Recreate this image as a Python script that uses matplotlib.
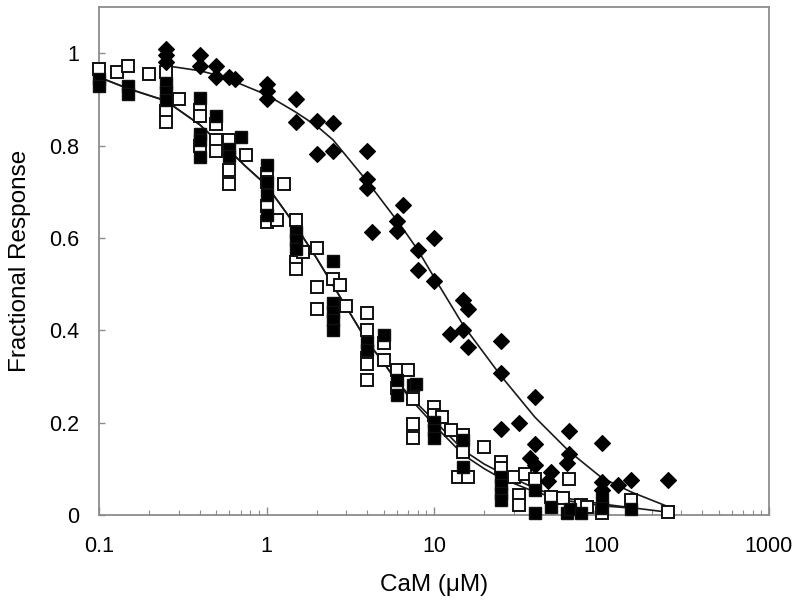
import matplotlib
matplotlib.use("Agg")
import matplotlib.pyplot as plt
from matplotlib.ticker import FixedLocator, NullFormatter

plt.rcParams['font.family'] = ['Liberation Sans', 'DejaVu Sans']

# --- Diamonds (filled) ---
dia_x = [0.25, 0.25, 0.25, 0.4, 0.4, 0.5, 0.5, 0.6, 0.65, 1, 1, 1, 1.5, 1.5,
         2, 2, 2.5, 2.5, 4, 4, 4, 4.25, 6, 6, 6.5, 8, 8, 10, 10, 12.5, 15, 15,
         16, 16, 25, 25, 25, 32, 37.5, 40, 40, 40, 48, 50, 62, 64, 64,
         100, 100, 100, 125, 150, 250]
dia_y = [1.01, 0.995, 0.98, 0.995, 0.973, 0.973, 0.948, 0.948, 0.945, 0.933, 0.919, 0.901, 0.901, 0.850,
         0.853, 0.782, 0.848, 0.789, 0.789, 0.728, 0.708, 0.613, 0.636, 0.615, 0.672, 0.573, 0.531, 0.600, 0.507, 0.393, 0.465, 0.400,
         0.447, 0.364, 0.377, 0.308, 0.186, 0.200, 0.123, 0.256, 0.153, 0.108, 0.074, 0.094, 0.112, 0.182, 0.133,
         0.156, 0.072, 0.054, 0.065, 0.076, 0.076]

# --- Filled squares ---
fsq_x = [0.1, 0.1, 0.15, 0.15, 0.25, 0.25, 0.25, 0.4, 0.4, 0.4, 0.4, 0.5, 0.6, 0.6, 0.7,
         1, 1, 1, 1, 1.5, 1.5, 1.5, 2.5, 2.5, 2.5, 2.5, 2.5, 4, 4, 5, 6, 6, 7.5, 7.8,
         10, 10, 10, 15, 15, 25, 25, 25, 25, 40, 40, 50, 62, 65, 75, 100, 100, 150]
fsq_y = [0.945, 0.93, 0.930, 0.912, 0.935, 0.917, 0.899, 0.904, 0.824, 0.813, 0.775, 0.865, 0.793, 0.778, 0.818,
         0.758, 0.72, 0.692, 0.65, 0.613, 0.595, 0.577, 0.55, 0.458, 0.44, 0.422, 0.4, 0.375, 0.357, 0.389, 0.292, 0.259, 0.281, 0.283,
         0.202, 0.184, 0.166, 0.162, 0.104, 0.083, 0.065, 0.047, 0.032, 0.054, 0.004, 0.018, 0.004, 0.012, 0.004, 0.035, 0.015, 0.014]

# --- Open squares ---
osq_x = [0.1, 0.128, 0.15, 0.2, 0.25, 0.25, 0.25, 0.3, 0.4, 0.4, 0.4, 0.5, 0.5, 0.5, 0.6, 0.6, 0.6, 0.75,
         1, 1, 1, 1, 1.15, 1.27, 1.5, 1.5, 1.5, 1.66, 2, 2, 2, 2.5, 2.75, 3, 4, 4, 4, 4, 4,
         5, 5, 6, 6, 7, 7.5, 7.5, 7.5, 10, 10, 11.1, 12.7, 14, 15, 15, 16, 20, 25, 25, 30, 32, 32, 35, 40,
         50, 59, 64, 75, 82, 100, 150, 250]
osq_y = [0.965, 0.959, 0.973, 0.954, 0.959, 0.874, 0.850, 0.9, 0.878, 0.865, 0.8, 0.847, 0.811, 0.788, 0.811, 0.746, 0.717, 0.78,
         0.739, 0.721, 0.670, 0.634, 0.638, 0.717, 0.638, 0.548, 0.533, 0.569, 0.579, 0.494, 0.445, 0.512, 0.497, 0.452, 0.438, 0.4, 0.339, 0.328, 0.292,
         0.373, 0.335, 0.314, 0.276, 0.315, 0.252, 0.198, 0.166, 0.234, 0.216, 0.213, 0.184, 0.083, 0.173, 0.137, 0.083, 0.148, 0.115, 0.101, 0.083, 0.043, 0.022, 0.089, 0.079,
         0.04, 0.036, 0.079, 0.022, 0.018, 0.004, 0.032, 0.007]

# --- Fitted curves ---
dfit_x = [0.25, 0.4, 0.5, 0.63, 1, 1.5, 2, 2.5, 4, 6.3, 8, 10, 15, 25, 40, 64, 100, 150, 250]
dfit_y = [0.973, 0.962, 0.953, 0.940, 0.910, 0.872, 0.842, 0.812, 0.722, 0.628, 0.574, 0.515, 0.410, 0.302, 0.212, 0.138, 0.081, 0.050, 0.018]

ofit_x = [0.1, 0.15, 0.25, 0.4, 0.5, 0.6, 0.75, 1, 1.5, 2, 2.5, 4, 5, 6, 7.5, 10, 15, 20, 25, 40, 50, 65, 100, 150, 250]
ofit_y = [0.948, 0.923, 0.897, 0.845, 0.812, 0.789, 0.755, 0.714, 0.625, 0.555, 0.497, 0.375, 0.33, 0.29, 0.25, 0.205, 0.14, 0.11, 0.092, 0.058, 0.045, 0.035, 0.024, 0.016, 0.006]

ffit_x = [0.1, 0.15, 0.25, 0.4, 0.5, 0.6, 0.75, 1, 1.5, 2, 2.5, 4, 5, 6, 7.5, 10, 15, 20, 25, 40, 50, 65, 100, 150]
ffit_y = [0.948, 0.923, 0.897, 0.845, 0.812, 0.789, 0.755, 0.714, 0.625, 0.555, 0.497, 0.375, 0.33, 0.288, 0.245, 0.195, 0.13, 0.10, 0.08, 0.05, 0.04, 0.03, 0.02, 0.015]

xticks = [0.1, 1, 10, 100, 1000]
xticklabels = ['0.1', '1', '10', '100', '1000']
yticks = [0, 0.2, 0.4, 0.6, 0.8, 1]
yticklabels = ['0', '0.2', '0.4', '0.6', '0.8', '1']

fig = plt.figure(figsize=(8, 6.13), dpi=100)
ax = fig.add_axes([99/800, (613-515)/613, (769-99)/800, (515-7)/613])

lc = '#1a1a1a'
ax.plot(dfit_x, dfit_y, color=lc, lw=1.2, zorder=2)
ax.plot(ofit_x, ofit_y, color=lc, lw=1.2, zorder=2)
ax.plot(ffit_x, ffit_y, color=lc, lw=1.2, zorder=2)

ax.plot(osq_x, osq_y, ls='none', marker='s', ms=8, mfc='white', mec='#111111', mew=1.4, zorder=3, clip_on=False)
ax.plot(fsq_x, fsq_y, ls='none', marker='s', ms=8, mfc='black', mec='#111111', mew=1.0, zorder=4, clip_on=False)
ax.plot(dia_x, dia_y, ls='none', marker='D', ms=7.8, mfc='black', mec='black', mew=0.8, zorder=5, clip_on=False)

ax.set_xscale('log')
ax.set_xlim(0.1, 1000)
ax.set_ylim(0, 1.1)
ax.set_xticks(xticks)
ax.set_xticklabels(xticklabels)
ax.xaxis.set_minor_locator(FixedLocator([m * 10.0**e for e in range(-1, 3) for m in range(2, 10)]))
ax.xaxis.set_minor_formatter(NullFormatter())
ax.set_yticks(yticks)
ax.set_yticklabels(yticklabels)

gray = '#8c8c8c'
for s in ax.spines.values():
    s.set_color(gray)
    s.set_linewidth(1.3)
ax.tick_params(axis='x', which='major', direction='in', length=6, width=1, color=gray, pad=15, labelsize=15.5)
ax.tick_params(axis='x', which='minor', direction='in', length=3.5, width=0.8, color=gray)
ax.tick_params(axis='y', which='major', direction='in', length=4.5, width=1, color=gray, pad=14, labelsize=15.5)

ax.set_xlabel('CaM (\u03bcM)', fontsize=17.5, labelpad=12)
ax.set_ylabel('Fractional Response', fontsize=17.5, labelpad=13)

fig.savefig('out.png', dpi=100)
